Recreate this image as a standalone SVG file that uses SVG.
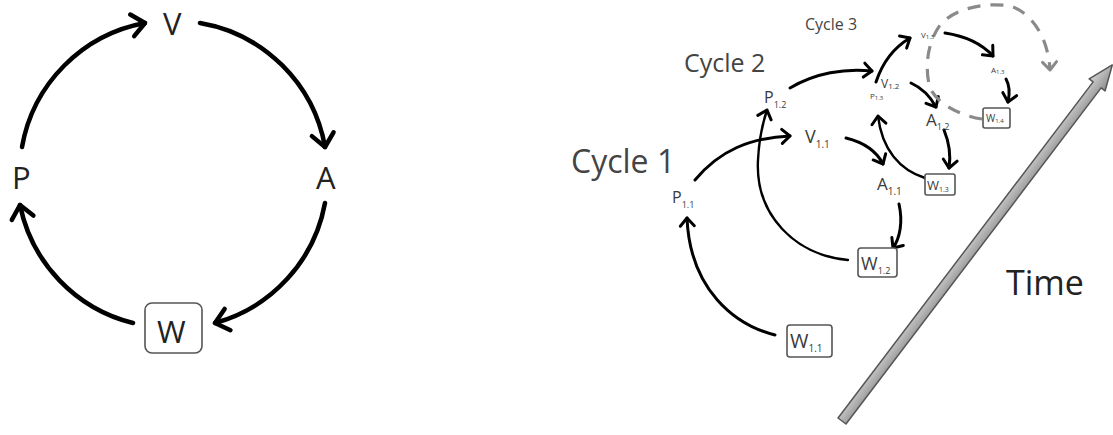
<svg xmlns="http://www.w3.org/2000/svg" width="1113" height="435" viewBox="0 0 1113 435">
<style>
text{font-family:"Open Sans","Liberation Sans",sans-serif;}
.big{font-size:31px;fill:#222;}
.lbl{fill:#3a3a3a;}
.cyc{fill:#444;}
.c1{fill:none;stroke:#000;stroke-width:4.5;stroke-linecap:round;}
.c2{fill:none;stroke:#000;stroke-width:3;stroke-linecap:round;}
.c3{fill:none;stroke:#000;stroke-width:2.4;stroke-linecap:round;}
.dash{fill:none;stroke:#8a8a8a;stroke-width:3.2;stroke-dasharray:13 10;}
.box{fill:#fff;stroke:#555;stroke-width:1.6;}
</style>
<defs>
<marker id="hb" markerUnits="userSpaceOnUse" viewBox="-18 -15 22 30" refX="0" refY="0" markerWidth="22" markerHeight="30" orient="auto">
<path d="M-13,-11 L0,0 L-13,11" fill="none" stroke="#000" stroke-width="4.5" stroke-linecap="round" stroke-linejoin="round"/>
</marker>
<marker id="hs" markerUnits="userSpaceOnUse" viewBox="-12 -10 15 20" refX="0" refY="0" markerWidth="15" markerHeight="20" orient="auto">
<path d="M-8,-7 L0,0 L-8,7" fill="none" stroke="#000" stroke-width="3" stroke-linecap="round" stroke-linejoin="round"/>
</marker>
<marker id="hg" markerUnits="userSpaceOnUse" viewBox="-12 -10 15 20" refX="0" refY="0" markerWidth="15" markerHeight="20" orient="auto">
<path d="M-8,-7 L0,0 L-8,7" fill="none" stroke="#8a8a8a" stroke-width="3" stroke-linecap="round" stroke-linejoin="round"/>
</marker>
<linearGradient id="tg" x1="0" y1="0" x2="0" y2="1">
<stop offset="0" stop-color="#d4d4d4"/>
<stop offset="1" stop-color="#8c8c8c"/>
</linearGradient>
</defs>

<g id="connectors">
<path class="c1" d="M22,147 A153,153 0 0 1 145,23" marker-end="url(#hb)"/>
<path class="c1" d="M200,23 A153,153 0 0 1 325,147" marker-end="url(#hb)"/>
<path class="c1" d="M325,203 A153,153 0 0 1 215,323" marker-end="url(#hb)"/>
<path class="c1" d="M133,323 A153,153 0 0 1 20,205" marker-end="url(#hb)"/>

<path class="c2" d="M775,335 C735,325 690,290 687,218" marker-end="url(#hs)"/>
<path class="c2" d="M695,180 C720,150 750,138 790,136" marker-end="url(#hs)"/>
<path class="c2" d="M846,138 C862,142 876,150 883,164" marker-end="url(#hs)"/>
<path class="c2" d="M899,204 C903,222 900,238 893,248" marker-end="url(#hs)"/>
<path class="c3" d="M848,260 C795,255 755,215 758,160 C759,140 762,125 767,110" marker-end="url(#hs)"/>
<path class="c2" d="M790,88 C815,73 845,68 872,71" marker-end="url(#hs)"/>
<path class="c2" d="M911,83 C922,88 930,96 936,107" marker-end="url(#hs)"/>
<path class="c2" d="M944,130 C949,142 951,155 949,168" marker-end="url(#hs)"/>
<path class="c3" d="M925,178 C900,170 882,150 878,116" marker-end="url(#hs)"/>
<path class="c2" d="M876,82 C882,64 893,48 910,38" marker-end="url(#hs)"/>
<path class="c2" d="M945,33 C965,36 982,44 993,56" marker-end="url(#hs)"/>
<path class="c2" d="M1006,79 C1010,86 1010,93 1008,102" marker-end="url(#hs)"/>
<path class="dash" d="M982,119 C962,116 938,105 930,88 C925,70 926,45 940,25 C955,8 985,2 1010,6 C1030,12 1048,35 1050,70" marker-end="url(#hg)"/>
</g>

<g id="timeAxis" transform="translate(842,421) rotate(-52.8)">
<path d="M0,-5 L422,-5 L422,-10 L447,0 L422,10 L422,5 L0,5 Z" fill="url(#tg)" stroke="#555" stroke-width="1.5" stroke-linejoin="round"/>
</g>
<g id="timeLabel"><text x="1006" y="295" font-size="34" fill="#222">Time</text></g>

<g id="V"><text class="big" x="163" y="35">V</text></g>
<g id="P"><text class="big" x="12" y="189">P</text></g>
<g id="A"><text class="big" x="316" y="189">A</text></g>
<g id="W"><rect class="box" x="145" y="303" width="57" height="50" rx="7"/><text class="big" x="157" y="343" font-size="32">W</text></g>

<g id="cycle1"><text class="cyc" x="571" y="173" font-size="32">Cycle 1</text></g>
<g id="cycle2"><text class="cyc" x="684" y="72" font-size="25">Cycle 2</text></g>
<g id="cycle3"><text class="cyc" x="805" y="30" font-size="16">Cycle 3</text></g>

<g id="P11"><text class="lbl" x="672" y="203" font-size="16">P<tspan font-size="9" dy="5">1.1</tspan></text></g>
<g id="P12"><text class="lbl" x="764" y="103" font-size="16">P<tspan font-size="9" dy="5">1.2</tspan></text></g>
<g id="V11"><text class="lbl" x="805" y="143" font-size="18">V<tspan font-size="10" dy="5">1.1</tspan></text></g>
<g id="A11"><text class="lbl" x="877" y="190" font-size="17">A<tspan font-size="10" dy="5">1.1</tspan></text></g>
<g id="W12"><rect class="box" x="858" y="248" width="39" height="29" rx="3"/><text class="lbl" x="861" y="270" font-size="18">W<tspan font-size="9" dy="4">1.2</tspan></text></g>
<g id="W11"><rect class="box" x="787" y="325" width="45" height="32" rx="3"/><text class="lbl" x="790" y="348" font-size="20">W<tspan font-size="10" dy="4">1.1</tspan></text></g>
<g id="V12"><text class="lbl" x="881" y="88" font-size="12">V<tspan font-size="8" dy="1">1.2</tspan></text></g>
<g id="A12"><text class="lbl" x="926" y="126" font-size="17">A<tspan font-size="9" dy="4">1.2</tspan></text></g>
<g id="W13"><rect class="box" x="925" y="174" width="30" height="21" rx="2"/><text class="lbl" x="927" y="190" font-size="13">W<tspan font-size="7" dy="2">1.3</tspan></text></g>
<g id="P13"><text class="lbl" x="870" y="99" font-size="8">P<tspan font-size="6" dy="1">1.3</tspan></text></g>
<g id="V13"><text class="lbl" x="921" y="38" font-size="8">V<tspan font-size="6" dy="1">1.3</tspan></text></g>
<g id="A13"><text class="lbl" x="991" y="73" font-size="8">A<tspan font-size="6" dy="1">1.3</tspan></text></g>
<g id="W14"><rect class="box" x="983" y="108" width="27" height="20" rx="2"/><text class="lbl" x="986" y="122" font-size="10">W<tspan font-size="6" dy="1">1.4</tspan></text></g>
</svg>
